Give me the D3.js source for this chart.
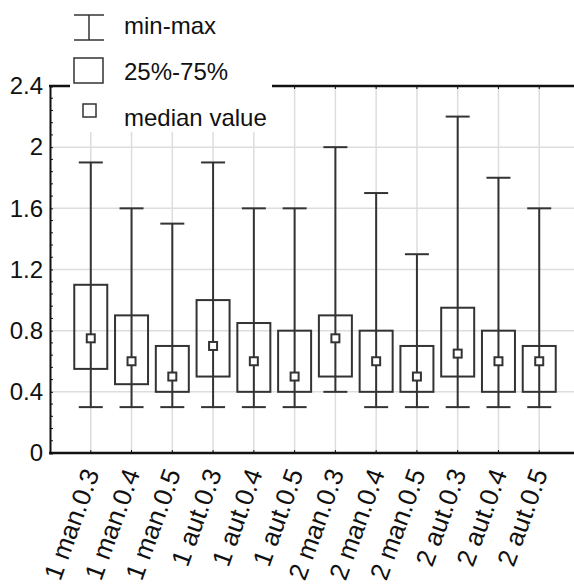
<!DOCTYPE html>
<html>
<head>
<meta charset="utf-8">
<script src="https://cdn.jsdelivr.net/npm/d3@7"></script>
<style>
  body { margin: 0; background: #fff; }
  svg { display: block; font-family: "Liberation Sans", Arial, sans-serif; }
</style>
</head>
<body>
<div id="chart"></div>
<script>
const categories = ['1 man.0.3', '1 man.0.4', '1 man.0.5', '1 aut.0.3', '1 aut.0.4', '1 aut.0.5',
                    '2 man.0.3', '2 man.0.4', '2 man.0.5', '2 aut.0.3', '2 aut.0.4', '2 aut.0.5'];
const mins    = [0.3, 0.3, 0.3, 0.3, 0.3, 0.3, 0.4, 0.3, 0.3, 0.3, 0.3, 0.3];
const q1s     = [0.55, 0.45, 0.4, 0.5, 0.4, 0.4, 0.5, 0.4, 0.4, 0.5, 0.4, 0.4];
const medians = [0.75, 0.6, 0.5, 0.7, 0.6, 0.5, 0.75, 0.6, 0.5, 0.65, 0.6, 0.6];
const q3s     = [1.1, 0.9, 0.7, 1.0, 0.85, 0.8, 0.9, 0.8, 0.7, 0.95, 0.8, 0.7];
const maxs    = [1.9, 1.6, 1.5, 1.9, 1.6, 1.6, 2.0, 1.7, 1.3, 2.2, 1.8, 1.6];
const yTicks  = [0, 0.4, 0.8, 1.2, 1.6, 2, 2.4];

const width = 574, height = 586;
const ink = '#333';
const font = '"Liberation Sans", Arial, sans-serif';

const boxes = categories.map((c, i) => ({
  cat: c, min: mins[i], q1: q1s[i], med: medians[i], q3: q3s[i], max: maxs[i]
}));

const x = d3.scaleBand().domain(categories).range([50, 580]).paddingInner(0).paddingOuter(0.5);
const y = d3.scaleLinear().domain([0, 2.4]).range([453, 86]);
const cx = d => x(d) + x.bandwidth() / 2;

const svg = d3.select('#chart').append('svg')
  .attr('width', width).attr('height', height);

// grid
svg.append('g').selectAll('line').data(yTicks.slice(1)).join('line')
  .attr('x1', 50).attr('x2', 580)
  .attr('y1', d => y(d)).attr('y2', d => y(d))
  .attr('stroke', '#ddd').attr('stroke-width', 1.5);
svg.append('g').selectAll('line').data(categories).join('line')
  .attr('x1', cx).attr('x2', cx)
  .attr('y1', y(2.4)).attr('y2', y(0))
  .attr('stroke', '#ddd').attr('stroke-width', 1.5);

// y axis (ticks inside)
const yAxis = svg.append('g').attr('transform', 'translate(50,0)')
  .call(d3.axisLeft(y).tickValues(yTicks).tickSize(-3).tickPadding(7).tickFormat(d3.format('~g')));
yAxis.select('.domain').attr('stroke', '#111').attr('stroke-width', 2);
yAxis.selectAll('.tick line').attr('stroke', '#111');
yAxis.selectAll('text').attr('font-size', 24).attr('fill', '#111').attr('font-family', font);
// minor ticks
const minor = d3.range(0, 2.4001, 0.08).filter(v => Math.abs(v / 0.4 - Math.round(v / 0.4)) > 0.01);
svg.append('g').selectAll('line').data(minor).join('line')
  .attr('x1', 50).attr('x2', 53)
  .attr('y1', d => y(d)).attr('y2', d => y(d))
  .attr('stroke', '#111').attr('stroke-width', 1);

// x axis (bottom) and top frame
const xAxis = svg.append('g').attr('transform', `translate(0,${y(0)})`)
  .call(d3.axisBottom(x).tickSize(-3));
xAxis.select('.domain').attr('d', `M49,0H580`).attr('stroke', '#111').attr('stroke-width', 2.5);
xAxis.selectAll('.tick line').attr('stroke', '#111');
xAxis.selectAll('text')
  .attr('font-size', 26).attr('fill', '#111').attr('font-family', font)
  .attr('text-anchor', 'end')
  .attr('dy', 0).attr('x', 0).attr('y', 0)
  .attr('transform', 'translate(9,20) rotate(-70)');

const topAxis = svg.append('g').attr('transform', `translate(0,${y(2.4)})`)
  .call(d3.axisTop(x).tickSize(-3).tickFormat(''));
topAxis.select('.domain').attr('d', `M49,0H580`).attr('stroke', '#111').attr('stroke-width', 2.5);
topAxis.selectAll('.tick line').attr('stroke', '#111');

// boxes
const g = svg.append('g').attr('stroke', ink).attr('stroke-width', 2);
const capW = 12, boxW = 16.5, medW = 4;
g.selectAll('.whisker').data(boxes).join('line').attr('class', 'whisker')
  .attr('x1', d => cx(d.cat)).attr('x2', d => cx(d.cat))
  .attr('y1', d => y(d.min)).attr('y2', d => y(d.max));
g.selectAll('.capT').data(boxes).join('line').attr('class', 'capT')
  .attr('x1', d => cx(d.cat) - capW).attr('x2', d => cx(d.cat) + capW)
  .attr('y1', d => y(d.max)).attr('y2', d => y(d.max));
g.selectAll('.capB').data(boxes).join('line').attr('class', 'capB')
  .attr('x1', d => cx(d.cat) - capW).attr('x2', d => cx(d.cat) + capW)
  .attr('y1', d => y(d.min)).attr('y2', d => y(d.min));
g.selectAll('.box').data(boxes).join('rect').attr('class', 'box')
  .attr('x', d => cx(d.cat) - boxW).attr('width', boxW * 2)
  .attr('y', d => y(d.q3)).attr('height', d => y(d.q1) - y(d.q3))
  .attr('fill', 'none');
g.selectAll('.med').data(boxes).join('rect').attr('class', 'med')
  .attr('x', d => cx(d.cat) - medW).attr('width', medW * 2)
  .attr('y', d => y(d.med) - medW).attr('height', medW * 2)
  .attr('fill', '#fff');

// legend
const lg = svg.append('g');
lg.append('rect').attr('x', 70).attr('y', 0).attr('width', 202).attr('height', 132).attr('fill', '#fff');
const ls = lg.append('g').attr('stroke', ink).attr('stroke-width', 1.5).attr('fill', '#fff');
ls.append('line').attr('x1', 89).attr('x2', 89).attr('y1', 15).attr('y2', 40);
ls.append('line').attr('x1', 74).attr('x2', 104).attr('y1', 15).attr('y2', 15);
ls.append('line').attr('x1', 74).attr('x2', 104).attr('y1', 40).attr('y2', 40);
ls.append('rect').attr('x', 74).attr('y', 58).attr('width', 29).attr('height', 25);
ls.append('rect').attr('x', 83).attr('y', 104).attr('width', 13).attr('height', 13);
lg.selectAll('text').data(['min-max', '25%-75%', 'median value']).join('text')
  .attr('x', 124).attr('y', (d, i) => 34 + i * 46)
  .attr('font-size', 24).attr('fill', '#111').text(d => d);
</script>
</body>
</html>
